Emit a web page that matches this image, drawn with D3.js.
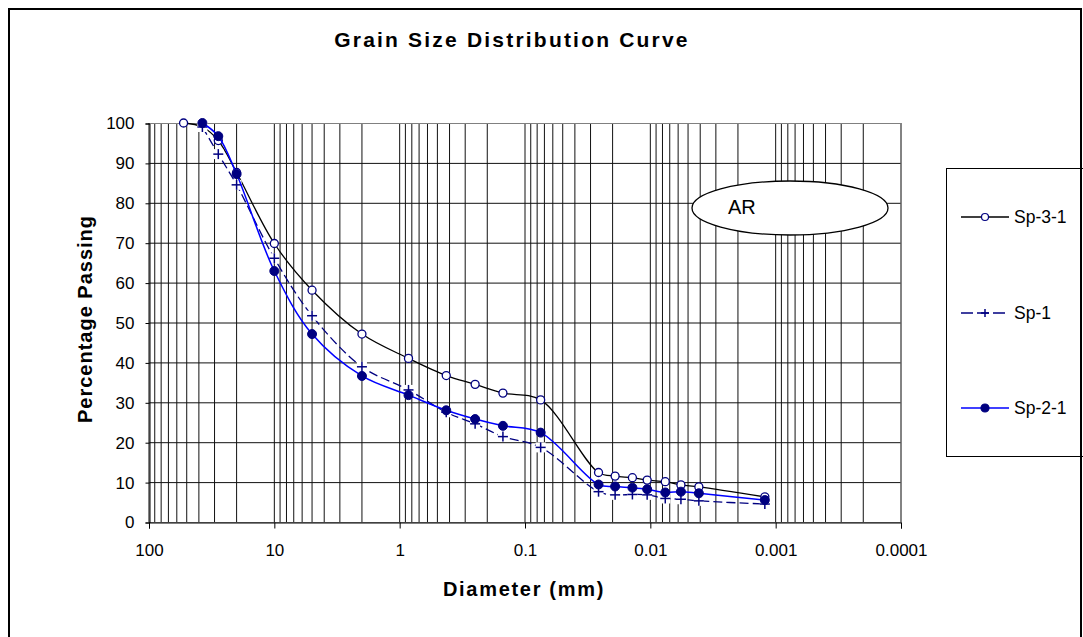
<!DOCTYPE html>
<html lang="en">
<head>
<meta charset="utf-8">
<title>Grain Size Distribution Curve</title>
<script src="https://d3js.org/d3.v7.min.js"></script>
<style>
  body { margin: 0; background: #fff; }
  text { font-family: "Liberation Sans", Arial, sans-serif; }
</style>
</head>
<body>
<div id="chart"></div>
<script>
// sieve / hydrometer diameters (mm)
var diam = [53, 37.5, 28, 20, 10, 5, 2, 0.85, 0.425, 0.25, 0.15, 0.075,
            0.0259, 0.0191, 0.0139, 0.0106, 0.0076, 0.0057, 0.0041, 0.00122];

// percentage passing per sample
var sp31 = [100, 99, 95.6, 87.6, 69.8, 58.1, 47.1, 41.0, 36.7, 34.5, 32.3, 30.6,
            12.4, 11.5, 11.1, 10.5, 10.1, 9.3, 8.8, 6.3];
var sp1  = [null, 99, 92.2, 84.5, 66.1, 51.7, 38.9, 33.1, 27.5, 24.6, 21.4, 18.7,
            7.6, 6.8, 6.9, 6.8, 5.9, 5.7, 5.3, 4.5];
var sp21 = [null, 100, 96.7, 87.2, 62.9, 47.1, 36.6, 31.8, 28.0, 25.8, 24.1, 22.4,
            9.4, 8.9, 8.6, 8.2, 7.4, 7.6, 7.2, 5.5];

var seriesNames = ["Sp-3-1", "Sp-1", "Sp-2-1"];
var xTicks = [100, 10, 1, 0.1, 0.01, 0.001, 0.0001];
var yTicks = [0, 10, 20, 30, 40, 50, 60, 70, 80, 90, 100];

var width = 1083, height = 637;
var pLeft = 149, pRight = 901, pTop = 123, pBottom = 522;

var svg = d3.select("#chart").append("svg")
    .attr("width", width)
    .attr("height", height);

// outer frame
svg.append("rect")
    .attr("x", 9).attr("y", 9)
    .attr("width", 1072).attr("height", 640)
    .attr("fill", "#fff")
    .attr("stroke", "#000")
    .attr("stroke-width", 2);

var x = d3.scaleLog().domain([100, 0.0001]).range([pLeft, pRight]);
var y = d3.scaleLinear().domain([0, 100]).range([pBottom, pTop]);

// gridlines (log minor + major)
var gx = [];
for (var e = -4; e < 2; e++) {
    for (var k = 1; k < 10; k++) gx.push(k * Math.pow(10, e));
}
gx.push(100);

var grid = svg.append("g");
grid.selectAll("line.v").data(gx).enter().append("line")
    .attr("x1", function(d) { return x(d); })
    .attr("x2", function(d) { return x(d); })
    .attr("y1", pTop).attr("y2", pBottom)
    .attr("stroke", "#111")
    .attr("stroke-width", 1);

grid.selectAll("line.h").data(yTicks).enter().append("line")
    .attr("x1", pLeft).attr("x2", pRight)
    .attr("y1", function(d) { return y(d) + 0.5; })
    .attr("y2", function(d) { return y(d) + 0.5; })
    .attr("stroke", "#111")
    .attr("stroke-width", 1);

// plot border
svg.append("rect")
    .attr("x", pLeft).attr("y", pTop + 0.5)
    .attr("width", pRight - pLeft).attr("height", pBottom - pTop)
    .attr("fill", "none")
    .attr("stroke", "#808080")
    .attr("stroke-width", 1);

// axes
var xAxis = d3.axisBottom(x)
    .tickValues(xTicks)
    .tickFormat(function(d) { return String(d); })
    .tickSize(6)
    .tickPadding(15);
var gX = svg.append("g")
    .attr("transform", "translate(0," + (pBottom + 0.5) + ")")
    .call(xAxis);

var yAxis = d3.axisLeft(y)
    .tickValues(yTicks)
    .tickSize(4)
    .tickPadding(11);
var gY = svg.append("g")
    .attr("transform", "translate(" + (pLeft + 0.5) + ",0.5)")
    .call(yAxis);

[gX, gY].forEach(function(g) {
    g.select(".domain").attr("stroke", "#000");
    g.selectAll(".tick line").attr("stroke", "#000");
    g.selectAll("text")
        .attr("font-size", 17)
        .attr("fill", "#000")
        .style("font-family", "'Liberation Sans', Arial, sans-serif");
});

// series
var curve = d3.curveCatmullRom.alpha(0.5);
function pts(vals) {
    var out = [];
    vals.forEach(function(v, i) { if (v !== null) out.push([diam[i], v]); });
    return out;
}
var line = d3.line()
    .x(function(d) { return x(d[0]); })
    .y(function(d) { return y(d[1]); })
    .curve(curve);

var series = [
    { name: seriesNames[0], pts: pts(sp31), color: "#000000", width: 1.3, dash: null, marker: "open" },
    { name: seriesNames[1], pts: pts(sp1),  color: "#000080", width: 1.3, dash: "9,4", marker: "plus" },
    { name: seriesNames[2], pts: pts(sp21), color: "#0000ff", width: 1.5, dash: null, marker: "solid" }
];

function drawMarker(g, type, cx, cy) {
    if (type === "open") {
        g.append("circle").attr("cx", cx).attr("cy", cy).attr("r", 4)
            .attr("fill", "#fff").attr("stroke", "#000080").attr("stroke-width", 1.3);
    } else if (type === "solid") {
        g.append("circle").attr("cx", cx).attr("cy", cy).attr("r", 4.5)
            .attr("fill", "#000080").attr("stroke", "#000080").attr("stroke-width", 1);
    } else {
        g.append("rect").attr("x", cx - 5).attr("y", cy - 5)
            .attr("width", 10).attr("height", 10).attr("fill", "#fff");
        g.append("line").attr("x1", cx - 5).attr("x2", cx + 5)
            .attr("y1", cy).attr("y2", cy)
            .attr("stroke", "#000080").attr("stroke-width", 1.5);
        g.append("line").attr("x1", cx).attr("x2", cx)
            .attr("y1", cy - 5).attr("y2", cy + 5)
            .attr("stroke", "#000080").attr("stroke-width", 1.5);
    }
}

series.forEach(function(s) {
    var g = svg.append("g");
    g.append("path")
        .datum(s.pts)
        .attr("d", line)
        .attr("fill", "none")
        .attr("stroke", s.color)
        .attr("stroke-width", s.width)
        .attr("stroke-dasharray", s.dash);
    s.pts.forEach(function(p) {
        drawMarker(g, s.marker, x(p[0]), y(p[1]));
    });
});

// annotation
svg.append("ellipse")
    .attr("cx", 790).attr("cy", 208)
    .attr("rx", 98).attr("ry", 27)
    .attr("fill", "#fff")
    .attr("stroke", "#000")
    .attr("stroke-width", 1.3);
svg.append("text")
    .attr("x", 728).attr("y", 214)
    .attr("font-size", 20)
    .text("AR");

// titles
svg.append("text")
    .attr("x", 512).attr("y", 47)
    .attr("text-anchor", "middle")
    .attr("font-size", 21)
    .attr("font-weight", "bold")
    .attr("letter-spacing", 2.2)
    .text("Grain Size Distribution Curve");

svg.append("text")
    .attr("x", 524).attr("y", 596)
    .attr("text-anchor", "middle")
    .attr("font-size", 20)
    .attr("font-weight", "bold")
    .attr("letter-spacing", 1.7)
    .text("Diameter (mm)");

svg.append("text")
    .attr("transform", "translate(92,319) rotate(-90)")
    .attr("text-anchor", "middle")
    .attr("font-size", 20)
    .attr("font-weight", "bold")
    .attr("letter-spacing", 1)
    .text("Percentage Passing");

// legend
var lg = svg.append("g");
lg.append("rect")
    .attr("x", 946.5).attr("y", 168.5)
    .attr("width", 140).attr("height", 288)
    .attr("fill", "#fff")
    .attr("stroke", "#000")
    .attr("stroke-width", 1);

var legY = [217, 313, 408];
series.forEach(function(s, i) {
    var g = lg.append("g");
    g.append("line")
        .attr("x1", 961).attr("x2", 1009)
        .attr("y1", legY[i]).attr("y2", legY[i])
        .attr("stroke", s.color)
        .attr("stroke-width", s.width)
        .attr("stroke-dasharray", s.dash ? "12,4" : null);
    if (s.marker === "plus") {
        g.append("line").attr("x1", 981).attr("x2", 989)
            .attr("y1", legY[i]).attr("y2", legY[i])
            .attr("stroke", "#000080").attr("stroke-width", 1.5);
        g.append("line").attr("x1", 985).attr("x2", 985)
            .attr("y1", legY[i] - 4).attr("y2", legY[i] + 4)
            .attr("stroke", "#000080").attr("stroke-width", 1.5);
    } else {
        g.append("circle").attr("cx", 985).attr("cy", legY[i])
            .attr("r", s.marker === "open" ? 3.5 : 4)
            .attr("fill", s.marker === "open" ? "#fff" : "#000080")
            .attr("stroke", "#000080").attr("stroke-width", 1.2);
    }
    g.append("text")
        .attr("x", 1014).attr("y", legY[i] + 6)
        .attr("font-size", 17.5)
        .text(s.name);
});

// redraw outer frame edge over legend
svg.append("line")
    .attr("x1", 1081).attr("x2", 1081)
    .attr("y1", 8).attr("y2", 637)
    .attr("stroke", "#000").attr("stroke-width", 2);
</script>
</body>
</html>
